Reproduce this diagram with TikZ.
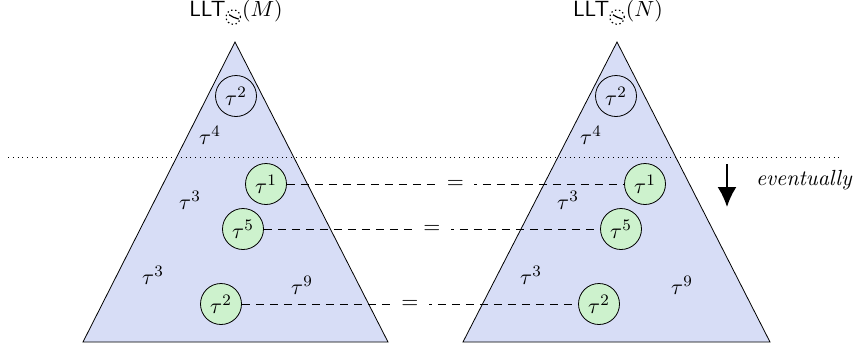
\documentclass[tikz,border=0pt]{standalone}
\usetikzlibrary{arrows.meta}
\definecolor{trifill}{RGB}{215,221,246}
\definecolor{circfill}{RGB}{205,242,205}
\newcommand{\myclock}{\tikz[baseline=-1.1ex,line width=0.6pt]{\draw[dash pattern=on 0.7pt off 1.3pt] (0,0) circle (3.6pt); \draw (0,0) -- (-20:2.9pt); \draw (0,0) -- (150:2.4pt);}}
\begin{document}
\begin{tikzpicture}[x=0.5pt,y=-0.5pt,font=\fontsize{11}{13}\selectfont,
  tri/.style={draw=black,fill=trifill},
  tcirc/.style={circle,draw=black,minimum size=20.5pt,inner sep=0pt},
  gcirc/.style={tcirc,fill=circfill},
  eqlink/.style={dash pattern=on 4pt off 3pt},
  eqlab/.style={fill=white,inner sep=5pt}]
\useasboundingbox (0,0) rectangle (853,349);
% triangles
\path[tri] (235,42) -- (388,342) -- (83,342) -- cycle;
\path[tri] (617,42) -- (770,342) -- (463,342) -- cycle;
% dotted separator
\draw[dotted] (8,157) -- (840,157);
% titles
\node (tM) at (236,14) {$\textsf{LLT}_{\myclock}(M)$};
\node (tN) at (618,14) {$\textsf{LLT}_{\myclock}(N)$};
% left tree
\node[tcirc] (l2) at (236,96) {$\tau^2$};
\node (l4) at (210,135) {$\tau^4$};
\node (l3a) at (190,200) {$\tau^3$};
\node (l3b) at (153,275) {$\tau^3$};
\node (l9) at (302,285) {$\tau^9$};
\node[gcirc] (l1) at (266,184) {$\tau^1$};
\node[gcirc] (l5) at (243,229) {$\tau^5$};
\node[gcirc] (l2b) at (221,304) {$\tau^2$};
% right tree
\node[tcirc] (r2) at (616,96) {$\tau^2$};
\node (r4) at (591,135) {$\tau^4$};
\node (r3a) at (568,200) {$\tau^3$};
\node (r3b) at (531,275) {$\tau^3$};
\node (r9) at (682,285) {$\tau^9$};
\node[gcirc] (r1) at (645,184) {$\tau^1$};
\node[gcirc] (r5) at (621,229) {$\tau^5$};
\node[gcirc] (r2b) at (599,304) {$\tau^2$};
% links
\draw[eqlink] (l1) -- node[eqlab] {$=$} (r1);
\draw[eqlink] (l5) -- node[eqlab] {$=$} (r5);
\draw[eqlink] (l2b) -- node[eqlab] {$=$} (r2b);
% eventually
\coordinate (a1) at (727,164);
\coordinate (a2) at (727,207);
\draw[line width=1pt,-{Latex[length=10pt,width=9.5pt]}] (a1) -- (a2);
\node[anchor=west] (ev) at (749,180) {$\mathit{eventually}$};
\end{tikzpicture}
\end{document}
